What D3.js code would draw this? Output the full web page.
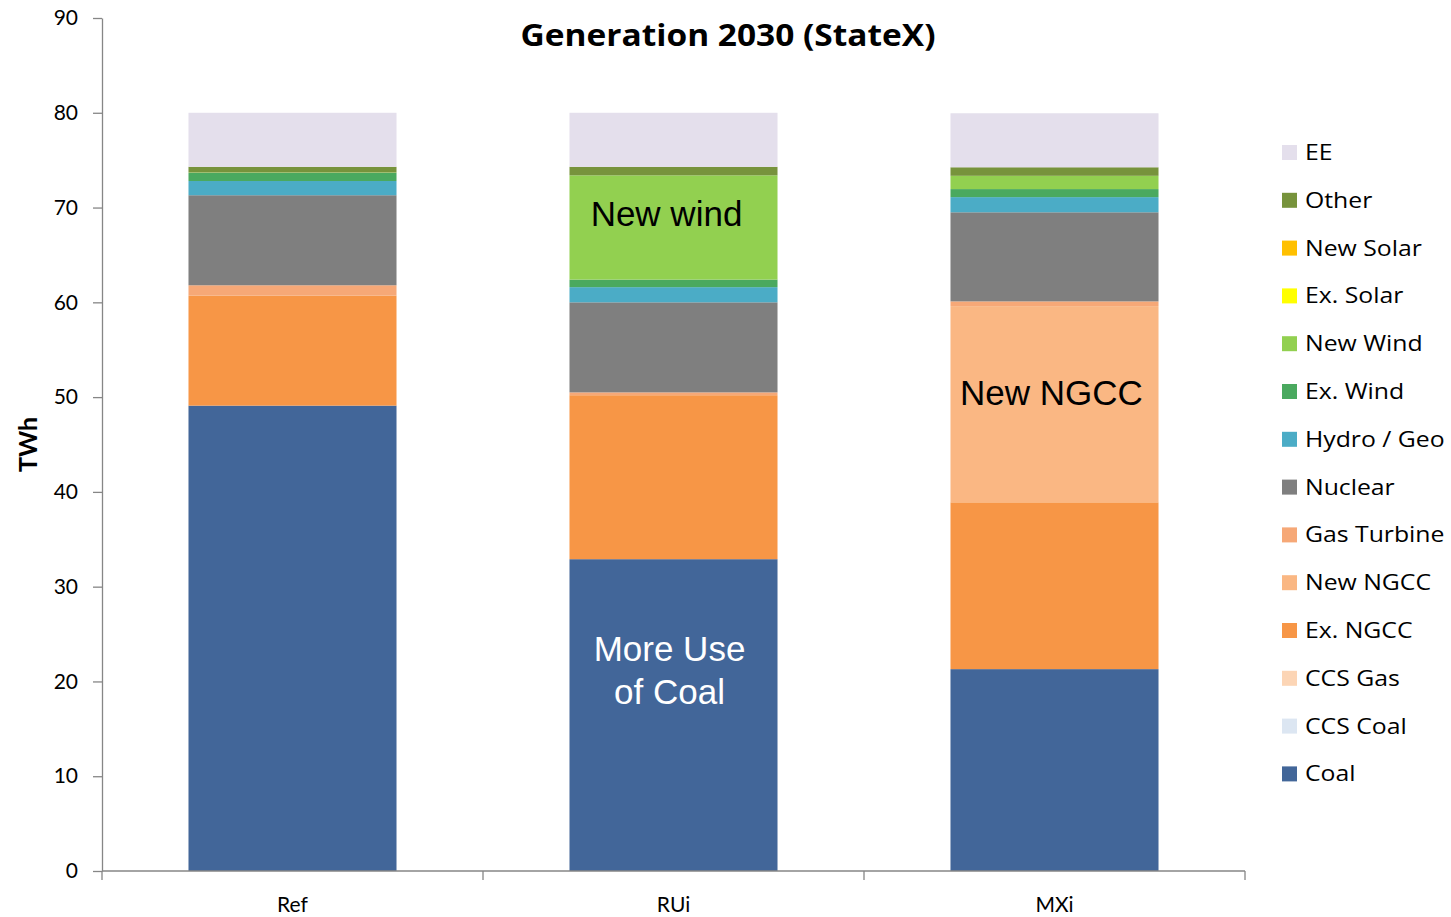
<!DOCTYPE html>
<html>
<head>
<meta charset="utf-8">
<script src="https://cdn.jsdelivr.net/npm/d3@7"></script>
<style>
  body { margin: 0; background: #fff; }
  #chart { width: 1451px; height: 917px; }
  text { font-family: Lato, "Open Sans", sans-serif; }
</style>
</head>
<body>
<div id="chart"></div>
<script>

// scenarios along the x axis
let scenarios = ["Ref", "RUi", "MXi"];

// series, bottom of the stack first
let seriesNames = ["Coal", "CCS Coal", "CCS Gas", "Ex. NGCC", "New NGCC", "Gas Turbine",
    "Nuclear", "Hydro / Geo", "Ex. Wind", "New Wind", "Ex. Solar", "New Solar", "Other", "EE"];

let seriesColors = ["#426699", "#dce6f2", "#fcd5b5", "#f79646", "#fab783", "#f6a877",
    "#7f7f7f", "#4bacc6", "#4aa95f", "#92d050", "#ffff00", "#ffc000", "#77933c", "#e4dfec"];

// TWh per scenario, same order as seriesNames
let coal        = [49.1, 32.9, 21.3];
let ccsCoal     = [0, 0, 0];
let ccsGas      = [0, 0, 0];
let exNgcc      = [11.6, 17.3, 17.6];
let newNgcc     = [0, 0, 20.7];
let gasTurbine  = [1.1, 0.3, 0.5];
let nuclear     = [9.5, 9.5, 9.4];
let hydroGeo    = [1.5, 1.6, 1.6];
let exWind      = [0.85, 0.8, 0.85];
let newWind     = [0.05, 11.0, 1.4];
let exSolar     = [0, 0, 0];
let newSolar    = [0, 0, 0];
let other       = [0.6, 0.9, 0.9];
let ee          = [5.7, 5.7, 5.7];

let yTicks = [0, 10, 20, 30, 40, 50, 60, 70, 80, 90];

let allValues = [coal, ccsCoal, ccsGas, exNgcc, newNgcc, gasTurbine, nuclear,
    hydroGeo, exWind, newWind, exSolar, newSolar, other, ee];

let table = scenarios.map((s, i) => {
    let row = { scenario: s };
    seriesNames.forEach((n, j) => row[n] = allValues[j][i]);
    return row;
});

const width = 1451, height = 917;
const margin = { top: 18, right: 206, bottom: 46, left: 102 };
const innerW = width - margin.left - margin.right;
const innerH = height - margin.top - margin.bottom;

let svg = d3.select('#chart').append('svg')
    .attr('width', width)
    .attr('height', height);

let g = svg.append('g')
    .attr('transform', `translate(${margin.left},${margin.top})`);

const xScale = d3.scaleBand()
    .domain(scenarios)
    .range([0, innerW])
    .paddingInner(0.454)
    .paddingOuter(0.227);

const yScale = d3.scaleLinear()
    .domain([0, 90])
    .range([innerH, 0]);

const stack = d3.stack().keys(seriesNames);
const stacked = stack(table);

g.selectAll('g.layer')
    .data(stacked)
    .join('g')
    .attr('class', 'layer')
    .attr('fill', (d, i) => seriesColors[i])
    .selectAll('rect')
    .data(d => d)
    .join('rect')
    .attr('x', d => xScale(d.data.scenario))
    .attr('width', xScale.bandwidth())
    .attr('y', d => yScale(d[1]))
    .attr('height', d => yScale(d[0]) - yScale(d[1]));

// y axis
let yAxis = g.append('g')
    .call(d3.axisLeft(yScale).tickValues(yTicks).tickSize(9).tickSizeOuter(0));
yAxis.select('.domain').attr('stroke', '#868686').attr('stroke-width', 1.3);
yAxis.selectAll('.tick line').attr('stroke', '#868686').attr('stroke-width', 1.3);
yAxis.selectAll('.tick text')
    .attr('x', -24)
    .attr('font-size', 21)
    .attr('fill', '#000');

// x axis: ticks sit between the categories
let xAxisG = g.append('g').attr('transform', `translate(0,${innerH})`);
xAxisG.append('line')
    .attr('x1', 0).attr('x2', innerW)
    .attr('stroke', '#868686').attr('stroke-width', 1.3);
let step = xScale.step();
let bounds = d3.range(scenarios.length + 1).map(i => i * step);
xAxisG.selectAll('line.tk')
    .data(bounds)
    .join('line')
    .attr('class', 'tk')
    .attr('x1', d => d).attr('x2', d => d)
    .attr('y1', 0).attr('y2', 9)
    .attr('stroke', '#868686').attr('stroke-width', 1.3);
xAxisG.selectAll('text')
    .data(scenarios)
    .join('text')
    .attr('x', d => xScale(d) + xScale.bandwidth() / 2)
    .attr('y', 41)
    .attr('text-anchor', 'middle')
    .attr('font-size', 21)
    .text(d => d);

// title (the original glyphs are a bit stretched sideways)
svg.append('text')
    .attr('transform', 'translate(728,46) scale(1.116,1)')
    .attr('text-anchor', 'middle')
    .attr('font-size', 30)
    .attr('font-weight', 'bold')
    .style('font-family', '"Open Sans", sans-serif')
    .text('Generation 2030 (StateX)');

// y label
svg.append('text')
    .attr('transform', `translate(37,${margin.top + innerH / 2}) rotate(-90)`)
    .attr('text-anchor', 'middle')
    .attr('font-size', 25)
    .attr('font-weight', 'bold')
    .text('TWh');

// annotations
let ann = g.append('g');
let midX = s => xScale(s) + xScale.bandwidth() / 2;
let note = (x, v, txt, col) => ann.append('text')
    .attr('x', x)
    .attr('y', yScale(v))
    .attr('text-anchor', 'middle')
    .attr('font-size', 35)
    .attr('fill', col)
    .style('font-family', '"Liberation Sans", Arial, sans-serif')
    .text(txt);
note(midX('RUi') - 7, 68.05, 'New wind', '#000');
note(midX('RUi') - 4, 22.15, 'More Use', '#fff');
note(midX('RUi') - 4, 17.6, 'of Coal', '#fff');
note(midX('MXi') - 3, 49.15, 'New NGCC', '#000');

// legend, top entry is the top of the stack
let legendItems = seriesNames.map((n, i) => ({ name: n, color: seriesColors[i] })).reverse();
let legend = svg.append('g').attr('transform', 'translate(1282,145)');
let li = legend.selectAll('g')
    .data(legendItems)
    .join('g')
    .attr('transform', (d, i) => `translate(0,${i * 47.8})`);
li.append('rect')
    .attr('width', 15).attr('height', 15)
    .attr('fill', d => d.color);
li.append('text')
    .attr('transform', 'translate(23,15) scale(1.18,1)')
    .attr('font-size', 21)
    .style('font-family', '"Open Sans", sans-serif')
    .text(d => d.name);

</script>
</body>
</html>
